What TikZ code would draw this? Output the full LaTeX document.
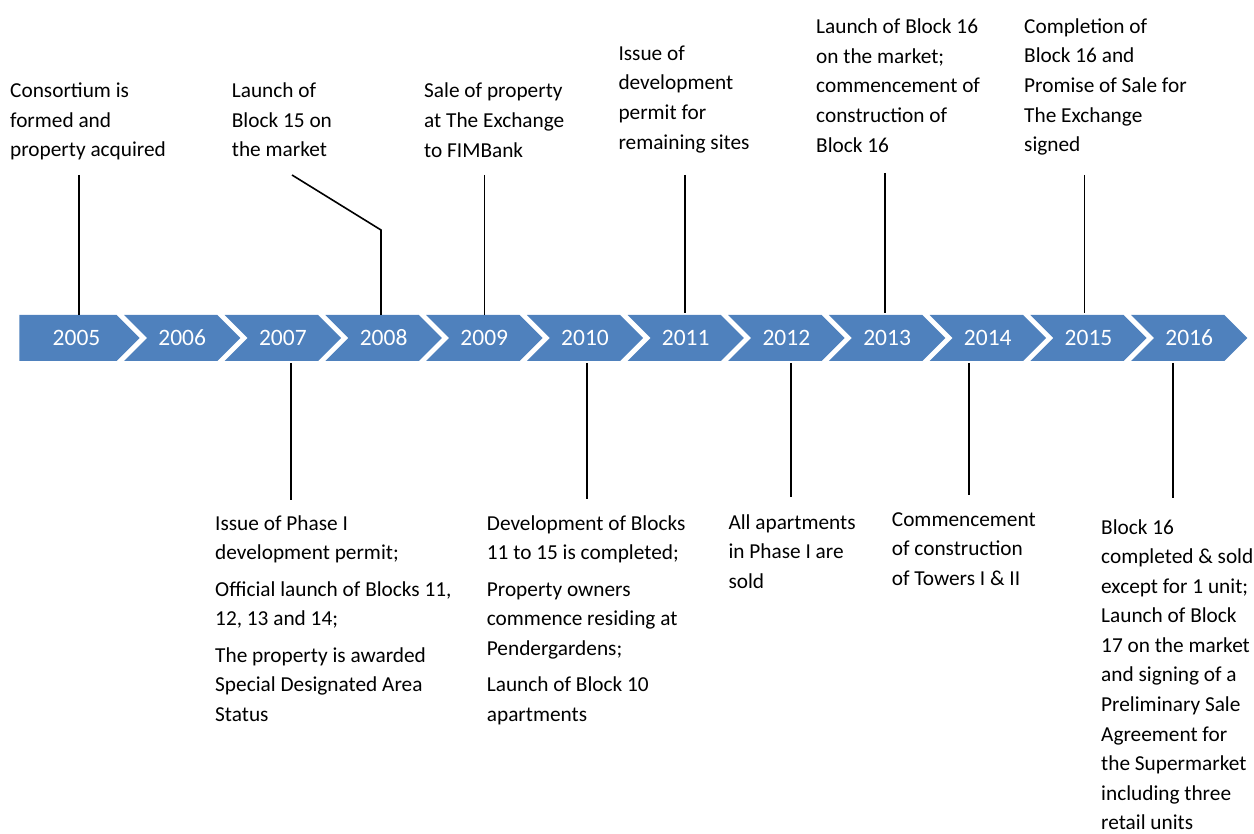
\documentclass[tikz,border=0pt]{standalone}
\usepackage{fontspec}
\setmainfont{Carlito}
\definecolor{chevblue}{HTML}{4F81BD}
\definecolor{txt}{HTML}{000000}
\tikzset{
  chev/.style={fill=chevblue, draw=none},
  year/.style={text=white, font=\fontsize{23.5}{27}\selectfont, inner sep=0pt, anchor=center},
  evt/.style={text=txt, font=\fontsize{21.3}{29.7}\selectfont, align=left, inner sep=0pt, anchor=north west},
  conn/.style={draw=black, line width=1.6pt}
}
\newcommand{\fl}{\rule{0pt}{20pt}}
\begin{document}
\begin{tikzpicture}[x=1pt,y=-1pt]
\useasboundingbox (0,0) rectangle (1254,834);
% first (home plate)
\fill[chev] (19.3,315) -- (116.7,315) -- (139.7,338) -- (116.7,361) -- (19.3,361) -- cycle;
\node[year] (y2005) at (76.5,338) {2005};
% remaining chevrons
\foreach \i/\yr in {1/2006,2/2007,3/2008,4/2009,5/2010,6/2011,7/2012,8/2013,9/2014,10/2015,11/2016}{
  \pgfmathsetmacro{\X}{124+(\i-1)*100.7}
  \fill[chev] (\X,315) -- ({\X+93.4},315) -- ({\X+116.4},338) -- ({\X+93.4},361) -- (\X,361) -- ({\X+23},338) -- cycle;
  \node[year] (y\yr) at ({\X+58.2},338) {\yr};
}
% top events
\node[evt] (e2005) at (10,77.3) {\fl Consortium is\\formed and\\property acquired};
\node[evt] (e2008) at (231.7,77.3) {\fl Launch of\\Block 15 on\\the market};
\node[evt] (e2009) at (424,77.8) {\fl Sale of property\\at The Exchange\\to FIMBank};
\node[evt] (e2011) at (618.3,40) {\fl Issue of\\development\\permit for\\remaining sites};
\node[evt] (e2013) at (816,13.3) {\fl Launch of Block 16\\on the market;\\commencement of\\construction of\\Block 16};
\node[evt] (e2015) at (1024,13) {\fl Completion of\\Block 16 and\\Promise of Sale for\\The Exchange\\signed};
% bottom events
\node[evt] (e2007) at (215,510) {\fl Issue of Phase I\\development permit;\\[6.5pt]Official launch of Blocks 11,\\12, 13 and 14;\\[6.5pt]The property is awarded\\Special Designated Area\\Status};
\node[evt] (e2010) at (486.7,510) {\fl Development of Blocks\\11 to 15 is completed;\\[6.5pt]Property owners\\commence residing at\\Pendergardens;\\[6.5pt]Launch of Block 10\\apartments};
\node[evt] (e2012) at (728.3,509) {\fl All apartments\\in Phase I are\\sold};
\node[evt] (e2014) at (891.7,506) {\fl Commencement\\of construction\\of Towers I \& II};
\node[evt, font=\fontsize{21.3}{29.55}\selectfont] (e2016) at (1101,514) {\fl Block 16\\completed \& sold\\except for 1 unit;\\Launch of Block\\17 on the market\\and signing of a\\Preliminary Sale\\Agreement for\\the Supermarket\\including three\\retail units};
% connector end points
\coordinate (a2005) at (79,175);   \coordinate (b2005) at (79,315);
\coordinate (a2008) at (292,175);  \coordinate (k2008) at (381,230); \coordinate (b2008) at (381,315);
\coordinate (a2009) at (484.5,175); \coordinate (b2009) at (484.5,315);
\coordinate (a2011) at (685,175);  \coordinate (b2011) at (685,313);
\coordinate (a2013) at (885,173);  \coordinate (b2013) at (885,313);
\coordinate (a2015) at (1084.5,175); \coordinate (b2015) at (1084.5,313);
\coordinate (a2007) at (291,363);  \coordinate (b2007) at (291,500);
\coordinate (a2010) at (587,363);  \coordinate (b2010) at (587,499);
\coordinate (a2012) at (791,363);  \coordinate (b2012) at (791,497);
\coordinate (a2014) at (969,363);  \coordinate (b2014) at (969,495);
\coordinate (a2016) at (1173,363); \coordinate (b2016) at (1173,498);
\draw[conn] (a2005) -- (b2005);
\draw[conn] (a2008) -- (k2008) -- (b2008);
\draw[conn] (a2009) -- (b2009);
\draw[conn] (a2011) -- (b2011);
\draw[conn] (a2013) -- (b2013);
\draw[conn] (a2015) -- (b2015);
\draw[conn] (a2007) -- (b2007);
\draw[conn] (a2010) -- (b2010);
\draw[conn] (a2012) -- (b2012);
\draw[conn] (a2014) -- (b2014);
\draw[conn] (a2016) -- (b2016);
\end{tikzpicture}
\end{document}
